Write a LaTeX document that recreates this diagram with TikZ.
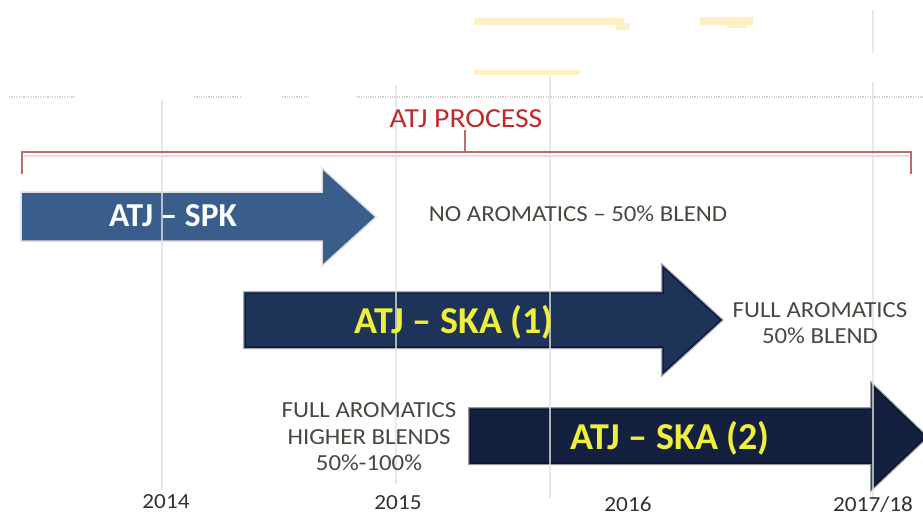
\documentclass[tikz,border=0pt]{standalone}
\usepackage{fontspec}
\setmainfont{Carlito}
\newfontfamily\lblfont[FakeStretch=1.08]{Carlito}
\definecolor{spkblue}{HTML}{3A5E8C}
\definecolor{skaone}{HTML}{1D3358}
\definecolor{skatwo}{HTML}{14213E}
\definecolor{navyedge}{HTML}{0B1748}
\definecolor{yel}{HTML}{F0F03C}
\definecolor{brk}{HTML}{BE6A6A}
\definecolor{brktxt}{HTML}{C0282A}
\definecolor{gridc}{HTML}{E0E0E0}
\definecolor{lbl}{HTML}{4A4640}
\definecolor{haze}{HTML}{FFF0C4}
\begin{document}
\begin{tikzpicture}[x=1pt,y=-1pt,
  lbltext/.style={text=lbl,font=\lblfont\fontsize{23}{26.5}\selectfont,align=center,inner sep=0pt},
  yeartext/.style={text=lbl!70!black,font=\lblfont\fontsize{21.5}{24}\selectfont,inner sep=0pt},
  gridline/.style={draw=gridc,line width=2pt,opacity=0.75},
  arrowtext/.style={font=\bfseries\fontsize{38}{41}\selectfont,text=yel,inner sep=0pt},
  bracketline/.style={draw=brk,line width=2.2pt},
]
\useasboundingbox (0,0) rectangle (923,515);
\begin{scope}
\clip (0,0) rectangle (923,515);
% faint heading remnants
\fill[haze] (474,18) rectangle (624,25);
\fill[haze] (616,23) rectangle (630,30);
\fill[haze] (700,17) rectangle (753,25);
\fill[haze] (727,22) rectangle (747,28);
\fill[haze] (474,70) rectangle (580,75);
% dotted rule
\draw[gray!35,line width=2pt,dash pattern=on 1.2pt off 1.2pt]
  (9,97) -- (74,97) (194,97) -- (241,97) (282,97) -- (309,97) (356,97) -- (923,97);
% arrows
\draw[fill=spkblue,draw=gray!25,line width=1.5pt]
  (21,192) -- (322,192) -- (322,168) -- (376,217) -- (322,266) -- (322,241) -- (21,241) -- cycle;
\draw[draw=gray!70,line width=4pt]
  (245,293) -- (663,293) -- (663,267) -- (721,320) -- (663,373) -- (663,347) -- (245,347) -- cycle;
\draw[fill=skaone,draw=navyedge,line width=1.5pt]
  (245,293) -- (663,293) -- (663,267) -- (721,320) -- (663,373) -- (663,347) -- (245,347) -- cycle;
\draw[draw=gray!80,line width=4pt]
  (470,409) -- (872,409) -- (872,385) -- (926,437) -- (872,488) -- (872,463) -- (470,463) -- cycle;
\draw[fill=skatwo,draw=navyedge!80!black,line width=1.5pt]
  (470,409) -- (872,409) -- (872,385) -- (926,437) -- (872,488) -- (872,463) -- (470,463) -- cycle;
% grid lines
\draw[gridline] (162,100) -- (162,490);
\draw[gridline] (396,85) -- (396,484);
\draw[gridline] (550,76) -- (550,498);
\draw[gridline] (873,10) -- (873,53);
\draw[gridline] (873,82) -- (873,500);
% bracket
\draw[gray!25,line width=2pt] (24,156) -- (909,156);
\draw[bracketline] (22,174) -- (22,152) -- (911,152) -- (911,174);
\draw[draw=brk,line width=1.5pt] (465,152) -- (465,130);
\end{scope}
% texts
\node[text=brktxt,font=\lblfont\fontsize{27.5}{30}\selectfont,inner sep=0pt] (proc) at (466,119) {ATJ PROCESS};
\node[font=\bfseries\fontsize{33.5}{36}\selectfont,text=white,inner sep=0pt] (spk) at (173,216) {ATJ – SPK};
\node[arrowtext] (skaA) at (454,322) {ATJ – SKA (1)};
\node[arrowtext] (skaB) at (670,438) {ATJ – SKA (2)};
\node[lbltext] (noaro) at (578,214) {NO AROMATICS – 50\% BLEND};
\node[lbltext] (fullA) at (820,323) {FULL AROMATICS\\50\% BLEND};
\node[lbltext] (fullB) at (369,437) {FULL AROMATICS\\HIGHER BLENDS\\50\%-100\%};
\node[yeartext] (yA) at (166,502) {2014};
\node[yeartext] (yB) at (398,503) {2015};
\node[yeartext] (yC) at (628,504) {2016};
\node[yeartext] (yD) at (873,504) {2017/18};
\end{tikzpicture}
\end{document}
